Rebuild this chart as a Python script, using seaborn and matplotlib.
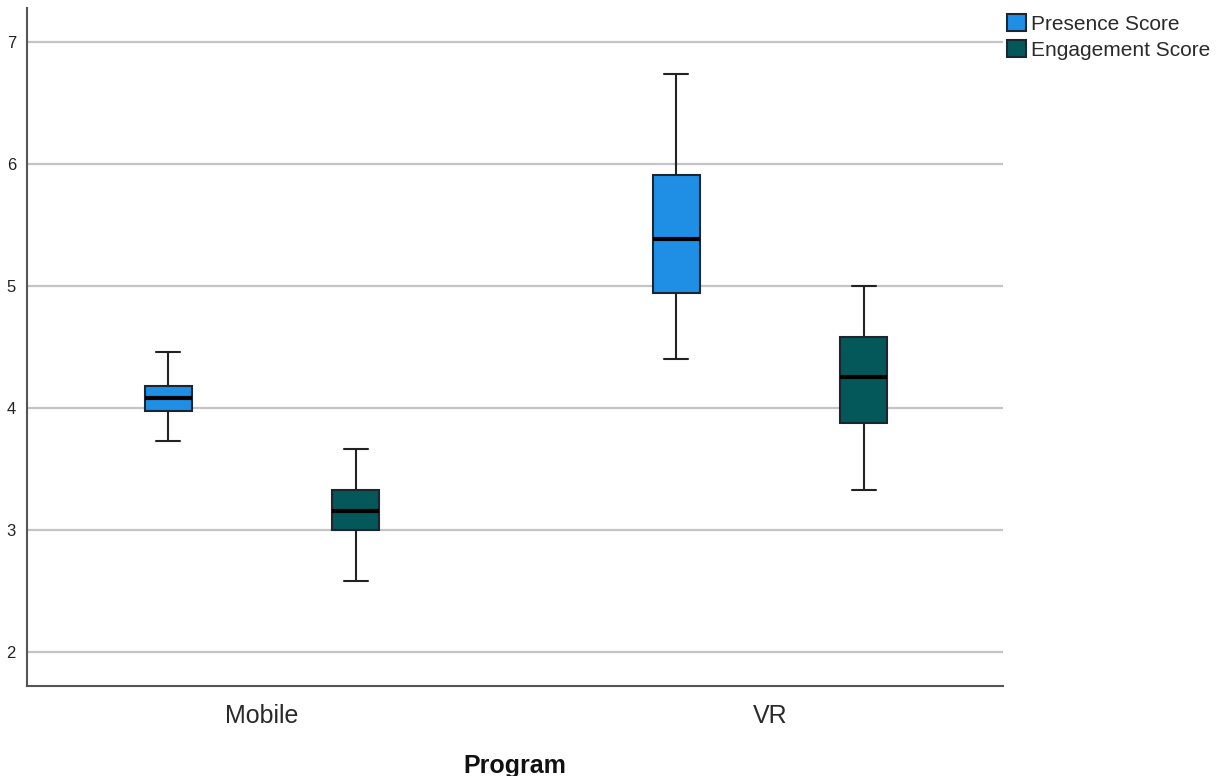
import seaborn as sns
import matplotlib.pyplot as plt
import numpy as np
import pandas as pd

# five-number summaries: min, q1, median, q3, max
programs = ['Mobile', 'VR']
measures = ['Presence Score', 'Engagement Score']
mobile_presence = [3.73, 3.975, 4.08, 4.18, 4.46]
mobile_engagement = [2.58, 3.0, 3.155, 3.33, 3.665]
vr_presence = [4.40, 4.945, 5.385, 5.91, 6.74]
vr_engagement = [3.33, 3.875, 4.255, 4.58, 5.0]
colors = ['#1F8FE5', '#04585A']

rows = []
for prog, meas, vals in [('Mobile', 'Presence Score', mobile_presence),
                         ('Mobile', 'Engagement Score', mobile_engagement),
                         ('VR', 'Presence Score', vr_presence),
                         ('VR', 'Engagement Score', vr_engagement)]:
    for v in vals:
        rows.append({'Program': prog, 'Measure': meas, 'Score': v})
df = pd.DataFrame(rows)

sns.set_style('white')
plt.rcParams['font.family'] = ['Liberation Sans', 'DejaVu Sans']

fig = plt.figure(figsize=(12.17, 7.76), dpi=100)
ax = fig.add_axes([27 / 1217, 1 - 686 / 776, (1003 - 27) / 1217, (686 - 8) / 776])

ax.yaxis.grid(True, color='#c4c4c4', linewidth=1.6, zorder=0)
ax.set_axisbelow(True)

sns.boxplot(data=df, x='Program', y='Score', hue='Measure', order=programs,
            hue_order=measures, palette=colors, width=0.74, gap=0.75,
            whis=np.inf, linecolor='#1c2630', linewidth=1.5, saturation=1,
            medianprops=dict(color='black', linewidth=3),
            whiskerprops=dict(color='#222222', linewidth=1.5),
            capprops=dict(color='#222222', linewidth=1.5),
            ax=ax)

ax.set_xlim(-0.4626, 1.4587)
ax.set_ylim(1.72, 7.28)
ax.set_yticks([2, 3, 4, 5, 6, 7])
ax.tick_params(axis='y', length=0, pad=8, labelsize=12, labelcolor='#222222')
ax.tick_params(axis='x', length=0, pad=13, labelsize=18, labelcolor='#2a2a2a')
ax.set_ylabel('')
ax.set_xlabel('Program', fontsize=18, fontweight='bold', labelpad=19, color='#111111')

for side in ['top', 'right']:
    ax.spines[side].set_visible(False)
for side in ['left', 'bottom']:
    ax.spines[side].set_color('#555555')
    ax.spines[side].set_linewidth(1.5)

ax.get_legend().remove()
handles = [plt.Rectangle((0, 0), 1, 1, facecolor=c, edgecolor='#1c2630', linewidth=1.5)
           for c in colors]
fig.legend(handles, measures, loc='upper left', bbox_to_anchor=(1003 / 1217, 1 - 10 / 776),
           frameon=False, fontsize=15, handlelength=0.9, handleheight=0.9,
           handletextpad=0.25, labelspacing=0.28, borderaxespad=0, borderpad=0.2,
           labelcolor='#2a2a2a')

plt.savefig('out.png', dpi=100)
